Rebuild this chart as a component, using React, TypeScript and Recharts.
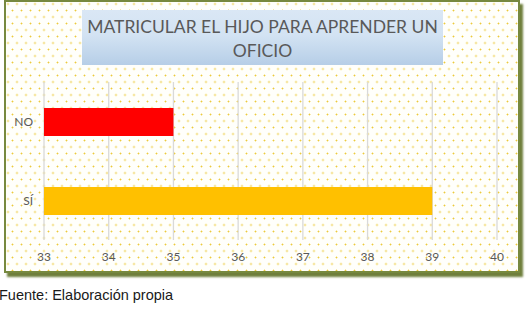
import React from "react";
import { BarChart, Bar, XAxis, YAxis, CartesianGrid, Cell } from "recharts";

// Categories, values and axis ticks
const categories = ["NO", "SÍ"];
const values = [35, 39];
const barColors = ["#ff0000", "#ffc000"];
const xTicks = [33, 34, 35, 36, 37, 38, 39, 40];
const titleLines = ["MATRICULAR EL HIJO PARA APRENDER UN", "OFICIO"];
const sourceNote = "Fuente: Elaboración propia";

const data = categories.map((c, i) => ({ name: c, value: values[i] }));

const dot = "radial-gradient(circle at center, #ecca3c 0.7px, rgba(255,255,255,0) 1.2px)";
const dotted = `${dot},${dot}`;

const tickFont = { fill: "#595959", fontSize: 12, fontFamily: "Lato, 'Open Sans', sans-serif" };

export default function App() {
  return (
    <div
      style={{
        position: "absolute",
        left: 0,
        top: 0,
        width: 531,
        height: 321,
        background: "#ffffff",
        overflow: "hidden",
      }}
    >
      {/* chart frame */}
      <div
        style={{
          position: "absolute",
          left: 4,
          top: 0,
          width: 512,
          height: 269,
          border: "2px solid #77893f",
          boxShadow: "3px 4px 2px #6f7f3c",
          backgroundColor: "#fffffb",
          backgroundImage: dotted,
          backgroundSize: "9px 13px, 9px 13px",
          backgroundPosition: "2px 2px, 6.5px 8.5px",
        }}
      />
      <div style={{ position: "absolute", left: 0, top: 0 }}>
        <BarChart
          width={531}
          height={273}
          data={data}
          layout="vertical"
          margin={{ top: 82, right: 34, bottom: 13, left: 8 }}
          barSize={28}
        >
          <CartesianGrid horizontal={false} vertical stroke="#d9d9d9" strokeWidth={1.3} />
          <XAxis
            type="number"
            domain={[33, 40]}
            ticks={xTicks}
            interval={0}
            axisLine={false}
            tickLine={false}
            height={20}
            tick={{ ...tickFont, dy: 4 }}
          />
          <YAxis
            type="category"
            dataKey="name"
            width={36}
            axisLine={false}
            tickLine={false}
            tick={{ ...tickFont, dx: -3 }}
          />
          <Bar dataKey="value" isAnimationActive={false}>
            {data.map((d, i) => (
              <Cell key={d.name} fill={barColors[i]} />
            ))}
          </Bar>
        </BarChart>
      </div>
      {/* title box */}
      <div
        style={{
          position: "absolute",
          left: 82,
          top: 10,
          width: 361,
          height: 55,
          background: "linear-gradient(to bottom, #dae7f5 0%, #d3e3f3 45%, #b6cee7 100%)",
          color: "#595959",
          fontFamily: "Lato, 'Open Sans', sans-serif",
          fontSize: 17.5,
          lineHeight: "24px",
          textAlign: "center",
          paddingTop: 5,
          boxSizing: "border-box",
          whiteSpace: "nowrap",
        }}
      >
        {titleLines.map((l) => (
          <div key={l}>{l}</div>
        ))}
      </div>
      <div
        style={{
          position: "absolute",
          left: -1,
          top: 287,
          fontFamily: "'Liberation Sans', Arial, sans-serif",
          fontSize: 14.5,
          color: "#1a1a1a",
          whiteSpace: "nowrap",
        }}
      >
        {sourceNote}
      </div>
    </div>
  );
}
